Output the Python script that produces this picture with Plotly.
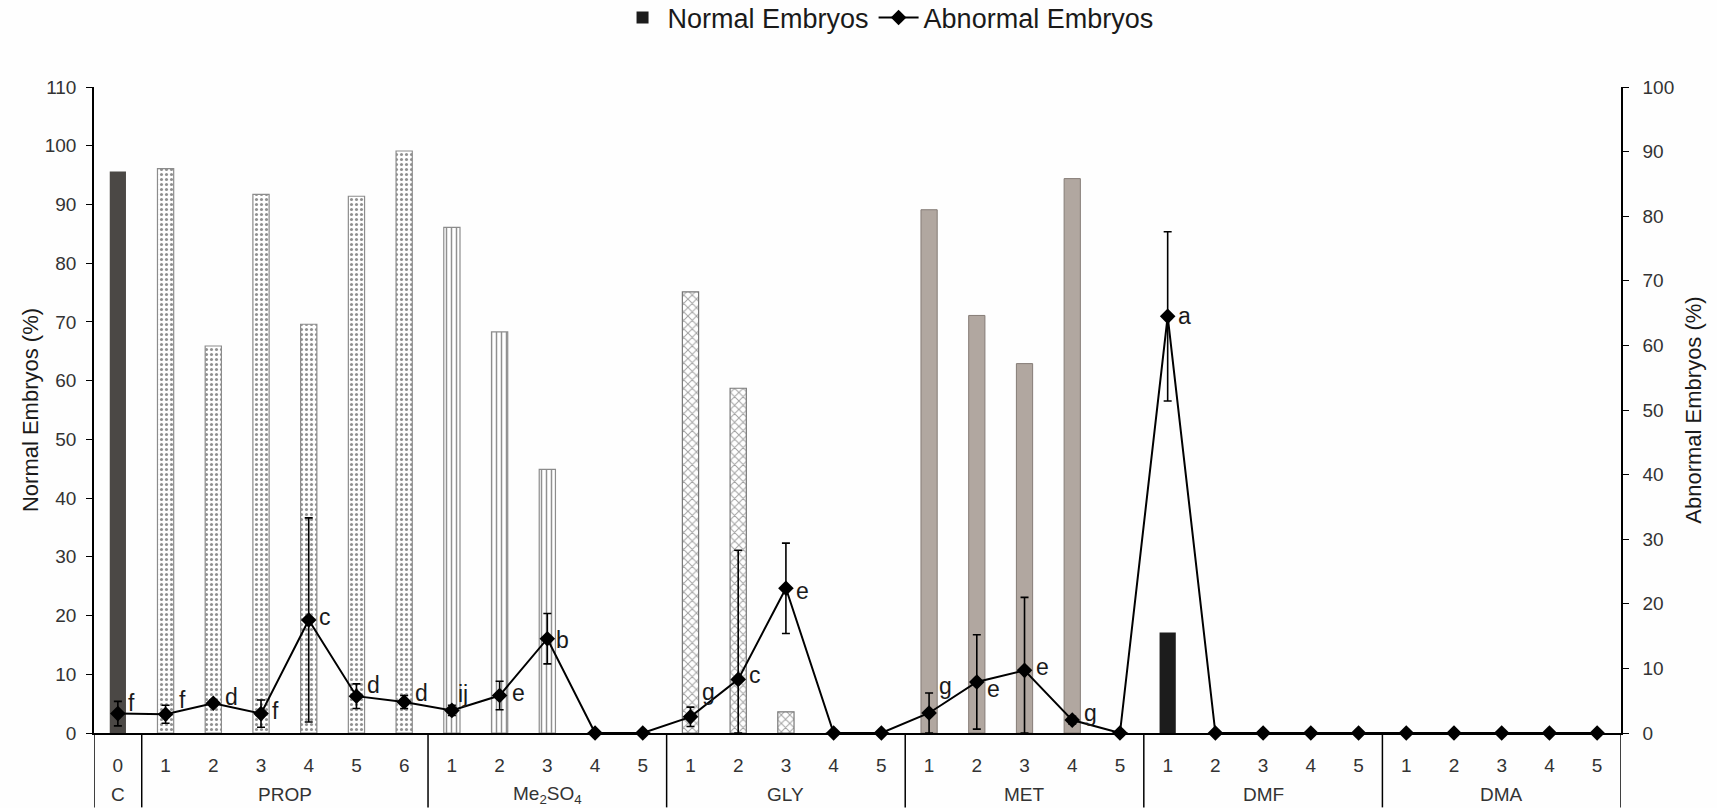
import plotly.graph_objects as go

# ---------------- data ----------------
groups = ["C", "PROP", "Me<sub>2</sub>SO<sub>4</sub>", "GLY", "MET", "DMF", "DMA"]
doses = [
    ["0"],
    ["1", "2", "3", "4", "5", "6"],
    ["1", "2", "3", "4", "5"],
    ["1", "2", "3", "4", "5"],
    ["1", "2", "3", "4", "5"],
    ["1", "2", "3", "4", "5"],
    ["1", "2", "3", "4", "5"],
]

# Normal embryos (%) - left axis (bars)
normal_C = [95.6]
normal_PROP = [96.1, 65.9, 91.7, 69.6, 91.4, 99.1]
normal_ME2SO4 = [86.1, 68.3, 44.9, 0, 0]
normal_GLY = [75.1, 58.7, 3.6, 0, 0]
normal_MET = [89.1, 71.1, 62.9, 94.4, 0]
normal_DMF = [17.1, 0, 0, 0, 0]
normal_DMA = [0, 0, 0, 0, 0]

# Abnormal embryos (%) - right axis (line with error bars)
abn_C = [3.0]
abn_PROP = [2.9, 4.6, 3.0, 17.5, 5.7, 4.8]
abn_ME2SO4 = [3.5, 5.8, 14.6, 0, 0]
abn_GLY = [2.5, 8.3, 22.4, 0, 0]
abn_MET = [3.1, 7.9, 9.7, 2.0, 0]
abn_DMF = [64.5, 0, 0, 0, 0]
abn_DMA = [0, 0, 0, 0, 0]

err_up_C = [1.9]
err_up_PROP = [1.4, 0.5, 2.1, 15.8, 1.9, 1.0]
err_up_ME2SO4 = [0.8, 2.2, 3.9, 0, 0]
err_up_GLY = [1.5, 20.0, 7.0, 0, 0]
err_up_MET = [3.1, 7.3, 11.3, 0.6, 0]
err_up_DMF = [13.1, 0, 0, 0, 0]
err_up_DMA = [0, 0, 0, 0, 0]

err_dn_C = [1.9]
err_dn_PROP = [1.4, 0.5, 2.1, 15.8, 1.9, 1.0]
err_dn_ME2SO4 = [0.8, 2.2, 3.9, 0, 0]
err_dn_GLY = [1.5, 8.3, 7.0, 0, 0]
err_dn_MET = [3.1, 7.3, 9.7, 0.6, 0]
err_dn_DMF = [13.1, 0, 0, 0, 0]
err_dn_DMA = [0, 0, 0, 0, 0]

letters_C = ["f"]
letters_PROP = ["f", "d", "f", "c", "d", "d"]
letters_ME2SO4 = ["ij", "e", "b", "", ""]
letters_GLY = ["g", "c", "e", "", ""]
letters_MET = ["g", "e", "e", "g", ""]
letters_DMF = ["a", "", "", "", ""]
letters_DMA = ["", "", "", "", ""]

normal = [normal_C, normal_PROP, normal_ME2SO4, normal_GLY, normal_MET, normal_DMF, normal_DMA]
abnormal = [abn_C, abn_PROP, abn_ME2SO4, abn_GLY, abn_MET, abn_DMF, abn_DMA]
err_up = [err_up_C, err_up_PROP, err_up_ME2SO4, err_up_GLY, err_up_MET, err_up_DMF, err_up_DMA]
err_dn = [err_dn_C, err_dn_PROP, err_dn_ME2SO4, err_dn_GLY, err_dn_MET, err_dn_DMF, err_dn_DMA]
letters = [letters_C, letters_PROP, letters_ME2SO4, letters_GLY, letters_MET, letters_DMF, letters_DMA]

# ---------------- styles ----------------
FONT = "Liberation Sans, Arial, sans-serif"
bar_styles = [
    dict(color="#4b4845", line=dict(width=0)),
    dict(color="white", line=dict(color="#8c8c8c", width=1.2),
         pattern=dict(shape=".", fgcolor="#222222", size=5, solidity=0.3)),
    dict(color="white", line=dict(color="#8c8c8c", width=1.2),
         pattern=dict(shape="|", fgcolor="#222222", size=5, solidity=0.3)),
    dict(color="white", line=dict(color="#777777", width=1.2),
         pattern=dict(shape="x", fgcolor="#444444", size=6, solidity=0.3)),
    dict(color="#b1a7a0", line=dict(color="#857c76", width=1)),
    dict(color="#1c1c1c", line=dict(width=0)),
    dict(color="white", line=dict(width=0)),
]
# label offsets (pixels) for the significance letters, per point
letter_dx = [[14], [17, 18, 14, 16, 17, 17], [11, 19, 15, 0, 0], [18, 17, 17, 0, 0],
             [16, 17, 18, 18, 0], [17, 0, 0, 0, 0], [0, 0, 0, 0, 0]]
letter_dy = [[11], [14, 6, 3, 3, 11, 9], [16, 3, -1, 0, 0], [25, 4, -3, 0, 0],
             [27, -7, 3, 7, 0], [0, 0, 0, 0, 0], [0, 0, 0, 0, 0]]

fig = go.Figure()

# positions along the category axis, derived from the group sizes
starts = []
pos = 0
for d in doses:
    starts.append(pos)
    pos += len(d)
n_total = pos

all_x, all_lbl, all_a, all_up, all_dn = [], [], [], [], []
for gi, g in enumerate(groups):
    xs = list(range(starts[gi], starts[gi] + len(doses[gi])))
    fig.add_trace(go.Bar(
        x=xs, y=normal[gi], width=0.34,
        marker=bar_styles[gi],
        name="Normal Embryos",
        showlegend=(g == "DMF"),
        yaxis="y",
    ))
    all_x += xs
    all_lbl += doses[gi]
    all_a += abnormal[gi]
    all_up += err_up[gi]
    all_dn += err_dn[gi]

fig.add_trace(go.Scatter(
    x=all_x, y=all_a, yaxis="y2",
    mode="lines+markers",
    name="Abnormal Embryos",
    line=dict(color="black", width=2),
    marker=dict(symbol="diamond", size=12, color="black"),
    error_y=dict(type="data", symmetric=False, array=all_up, arrayminus=all_dn,
                 color="black", thickness=1.6, width=4),
    cliponaxis=False,
))

annotations = []
for gi, g in enumerate(groups):
    for di in range(len(doses[gi])):
        t = letters[gi][di]
        if t:
            annotations.append(dict(
                x=starts[gi] + di, y=abnormal[gi][di], xref="x", yref="y2",
                text=t, showarrow=False, xanchor="center", yanchor="middle",
                xshift=letter_dx[gi][di], yshift=letter_dy[gi][di],
                font=dict(family=FONT, size=23, color="#1a1a1a"),
            ))
    # group name below the dose numbers
    annotations.append(dict(
        x=starts[gi] + (len(doses[gi]) - 1) / 2, y=0, xref="x", yref="paper",
        text=g, showarrow=False, xanchor="center", yanchor="middle", yshift=-61.5,
        font=dict(family=FONT, size=19, color="#333333"),
    ))

plot_bottom_px = 74.5
plot_h = 647
ybot = -plot_bottom_px / plot_h
shapes = []
for b in starts + [n_total]:
    shapes.append(dict(type="line", xref="x", yref="paper", x0=b - 0.5, x1=b - 0.5,
                       y0=0, y1=ybot, line=dict(color="black", width=1.5)))

fig.update_layout(
    width=1717, height=808,
    margin=dict(l=94, r=96, t=86.5, b=74.5, autoexpand=False),
    paper_bgcolor="#fefefe", plot_bgcolor="#fefefe",
    barmode="overlay",
    font=dict(family=FONT, size=17, color="#222222"),
    legend=dict(orientation="h", x=0.52, y=1.107, xanchor="center", yanchor="middle",
                font=dict(family=FONT, size=27, color="#1a1a1a"), itemwidth=40,
                bgcolor="rgba(0,0,0,0)", traceorder="normal"),
    xaxis=dict(showline=True, linecolor="black", linewidth=1.5, ticks="", showgrid=False,
               tickmode="array", tickvals=all_x, ticktext=all_lbl,
               tickfont=dict(size=19, color="#333333"), ticklabelstandoff=14,
               range=[-0.5, n_total - 0.5], zeroline=False, automargin=False),
    yaxis=dict(range=[0, 110], dtick=10, showgrid=False, showline=True, linecolor="black",
               linewidth=1.5, ticks="outside", ticklen=6, tickcolor="black",
               tickfont=dict(size=19, color="#333333"), ticklabelstandoff=6,
               title=dict(text="Normal Embryos (%)", font=dict(size=22, color="#1a1a1a"),
                          standoff=0),
               zeroline=False, automargin=False),
    yaxis2=dict(range=[0, 100], dtick=10, overlaying="y", side="right", showgrid=False,
                showline=True, linecolor="black", linewidth=1.5, ticks="outside",
                ticklen=6, tickcolor="black", tickfont=dict(size=19, color="#333333"),
                ticklabelstandoff=10,
                title=dict(text="Abnormal Embryos (%)",
                           font=dict(size=22, color="#1a1a1a"), standoff=12),
                zeroline=False, automargin=False),
    annotations=annotations,
    shapes=shapes,
)

fig.write_html("out.html", config={"displayModeBar": False},
               post_script="document.body.style.margin='0px';")
